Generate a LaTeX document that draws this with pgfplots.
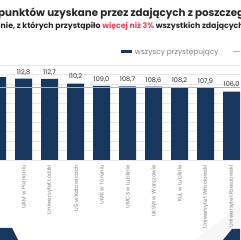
\documentclass[border=0pt]{standalone}
\usepackage{pgfplots}
\pgfplotsset{compat=1.18}
\usepackage{fontspec}
\setmainfont{Poppins}
\definecolor{navy}{HTML}{17375E}
\definecolor{redline}{HTML}{F09A8C}
\definecolor{pinktxt}{HTML}{E8455E}
\definecolor{txt}{HTML}{262626}
\definecolor{lbl}{HTML}{7F7F7F}
\begin{document}
\begin{tikzpicture}
\path[use as bounding box] (0pt,0pt) rectangle (240pt,240pt);
\begin{scope}
\clip (0pt,0pt) rectangle (240pt,240pt);
\fill[gray!7] (195pt,0pt) -- (240pt,0pt) -- (240pt,35pt) -- cycle;
\begin{axis}[
  at={(0pt,80pt)}, anchor=south west, scale only axis,
  width=240pt, height=95pt,
  xmin=0.096, xmax=9.327, ymin=70, ymax=120,
  axis line style={draw=none},
  major tick length=0pt,
  ytick={70,75,...,120}, yticklabels={},
  ymajorgrids, grid style={gray!18, line width=0.4pt},
  xtick={0,...,9},
  xticklabels={Uniwersytet Jagielloński, UAM w Poznaniu, Uniwersytet Łódzki, UŚ w Katowicach, UMK w Toruniu, UMCS w Lublinie, UKSW w Warszawie, KUL w Lublinie, Uniwersytet Wrocławski, Uniwersytet Rzeszowski},
  xticklabel style={rotate=90, anchor=east, inner sep=0pt, font=\fontsize{5.4}{6}\selectfont, text=lbl},
  xticklabel shift=5pt,
  legend style={at={(0.504,1.137)}, anchor=west, draw=none, fill=none, inner sep=0pt, outer sep=0pt,
    font=\fontsize{7.4}{8}\selectfont, text=lbl,
    nodes={inner xsep=3pt, inner ysep=0pt},
    /tikz/every even column/.append style={column sep=11pt}},
  legend columns=2,
  legend cell align=left,
  /pgf/number format/.cd, use comma, fixed, fixed zerofill, precision=1, assume math mode=true
]
\addplot[ybar, bar width=17pt, fill=navy, draw=none,
  nodes near coords,
  nodes near coords style={font=\fontsize{6.5}{7}\selectfont, text=txt, inner sep=0pt, anchor=south, yshift=3.5pt},
  legend image code/.code={\fill[navy] (0pt,-1.5pt) rectangle (11pt,1.5pt);}]
  coordinates {(0,113.6) (1,112.8) (2,112.7) (3,110.2) (4,109.0) (5,108.7) (6,108.6) (7,108.2) (8,107.9) (9,106.0)};
\addlegendentry{wszyscy przystępujący}
\addplot[redline, line width=1pt,
  legend image code/.code={\draw[redline, line width=1pt] (0pt,0pt) -- (10pt,0pt);}]
  coordinates {(-1,108.0) (11,108.0)};
\addlegendentry{Średnia krajowa}
\end{axis}
\node[anchor=base west, inner sep=0pt, font=\fontsize{10.3}{12}\bfseries\selectfont, text=txt] at (-2pt,223pt)
  {\llap{Średnia liczba }punktów uzyskane przez zdających z poszczególnych uczelni};
\node[anchor=base west, inner sep=0pt, font=\fontsize{7.8}{9}\bfseries\selectfont, text=txt] at (0.5pt,211pt)
  {\llap{na uczel}nie, z których przystąpiło \textcolor{pinktxt}{więcej niż 3\%} wszystkich zdających};
\fill[navy] (0pt,12pt) -- (12pt,12pt) -- (18pt,0pt) -- (0pt,0pt) -- cycle;
\fill[navy] (223pt,0pt) -- (232pt,11pt) -- (240pt,11pt) -- (240pt,0pt) -- cycle;
\end{scope}
\end{tikzpicture}
\end{document}
